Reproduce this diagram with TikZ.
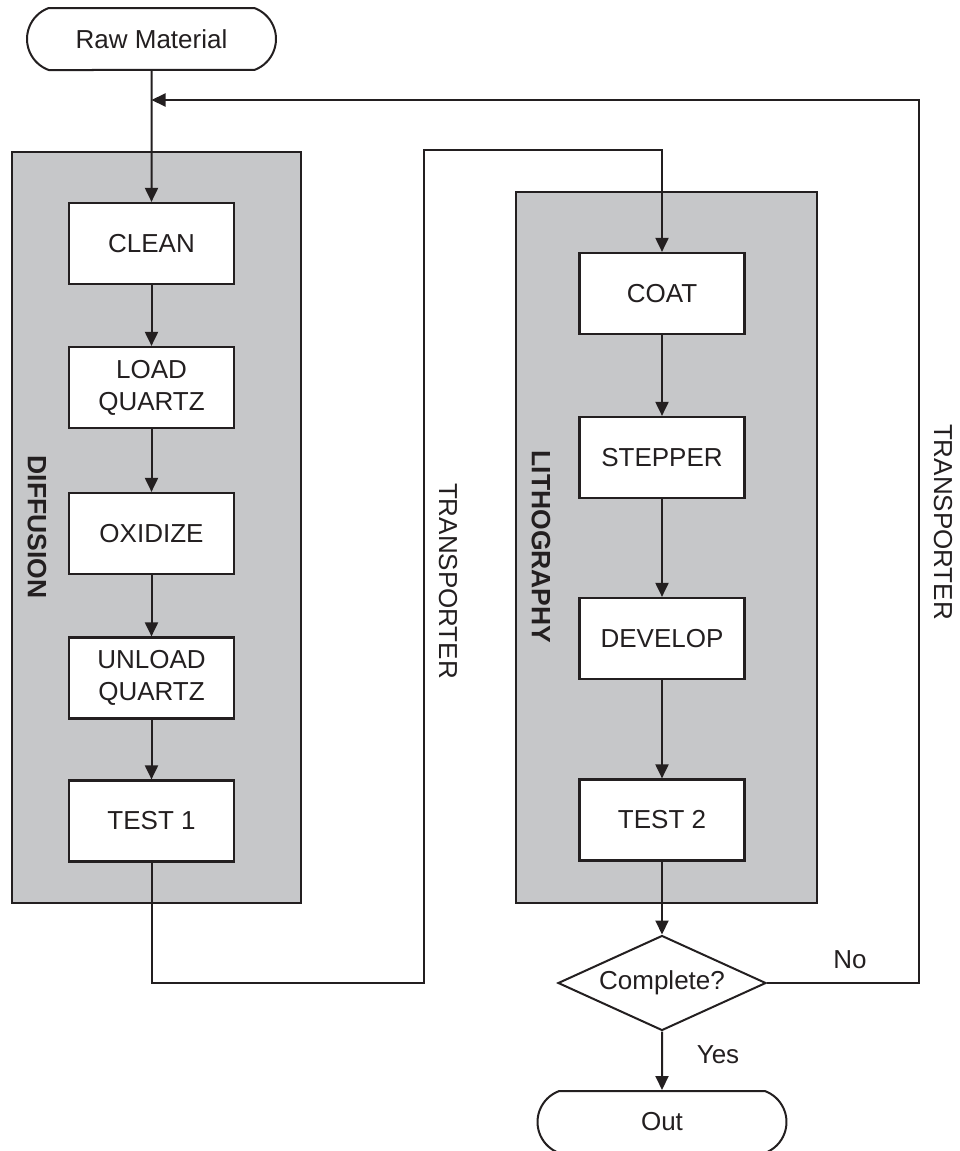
\documentclass[tikz,border=0pt]{standalone}
\usepackage{fontspec}
\setmainfont{Liberation Sans}
\usepackage{tikz}
\usetikzlibrary{shapes.geometric,shapes.misc,arrows.meta}
\definecolor{ink}{HTML}{231F20}
\definecolor{panel}{HTML}{C6C7C9}

\begin{document}
\begin{tikzpicture}[x=0.5pt,y=-0.5pt,ink,
	font=\fontsize{13}{16}\selectfont,
	procbox/.style={draw=ink,line width=1.1pt,fill=white,minimum width=82.5pt,minimum height=40.5pt,align=center,inner sep=0pt},
	termbox/.style={draw=ink,line width=1pt,fill=white,rounded rectangle,rounded rectangle arc length=140,minimum width=124.5pt,minimum height=31pt,inner sep=0pt},
	decbox/.style={draw=ink,line width=1pt,fill=white,diamond,aspect=2.19,minimum width=104pt,minimum height=47.5pt,inner sep=0pt},
	stagebg/.style={draw=ink,line width=1.1pt,fill=panel},
	stagelbl/.style={rotate=-90,font=\fontsize{13.25}{16}\selectfont\bfseries},
	flow/.style={line width=1pt,-{Triangle[length=7pt,width=6.5pt]}},
	wire/.style={line width=1pt}]
	\useasboundingbox (0,0) rectangle (959,1151);
	% grey stage panels
	\draw[stagebg] (12,152) rectangle (301,903);
	\draw[stagebg] (516,192) rectangle (817,903);
	\node[stagelbl] (difflbl) at (37,527) {DIFFUSION};
	\node[stagelbl] (litholbl) at (541,547) {LITHOGRAPHY};
	\node[rotate=-90] (transa) at (448,581) {TRANSPORTER};
	\node[rotate=-90] (transb) at (943,522) {TRANSPORTER};
	% diffusion steps
	\node[termbox] (raw) at (151.5,39) {Raw Material};
	\node[procbox] (clean) at (151.5,243.5) {CLEAN};
	\node[procbox] (loadq) at (151.5,387.5) {LOAD\\QUARTZ};
	\node[procbox] (oxid) at (151.5,533.5) {OXIDIZE};
	\node[procbox] (unloadq) at (151.5,678) {UNLOAD\\QUARTZ};
	\node[procbox] (testa) at (151.5,821) {TEST 1};
	% lithography steps
	\node[procbox] (coat) at (662,293.5) {COAT};
	\node[procbox] (stepper) at (662,457.5) {STEPPER};
	\node[procbox] (develop) at (662,638.5) {DEVELOP};
	\node[procbox] (testb) at (662,820) {TEST 2};
	\node[decbox] (check) at (662,983) {Complete?};
	\node[termbox] (out) at (662,1122) {Out};
	\node (nolbl) at (850,960) {No};
	\node (yeslbl) at (718,1055) {Yes};
	% routing points
	\coordinate (feedlow) at (424,983);
	\coordinate (feedtop) at (424,150);
	\coordinate (retcorner) at (919,100);
	\coordinate (join) at (151.5,100);
	% connectors
	\draw[flow] (raw) -- (clean);
	\foreach \a/\b in {clean/loadq,loadq/oxid,oxid/unloadq,unloadq/testa,coat/stepper,stepper/develop,develop/testb,testb/check,check/out}
		\draw[flow] (\a) -- (\b);
	\draw[flow] (testa.south) |- (feedlow) -- (feedtop) -| (coat.north);
	\draw[flow] (check.east) -| (retcorner) -- (join);
\end{tikzpicture}
\end{document}
